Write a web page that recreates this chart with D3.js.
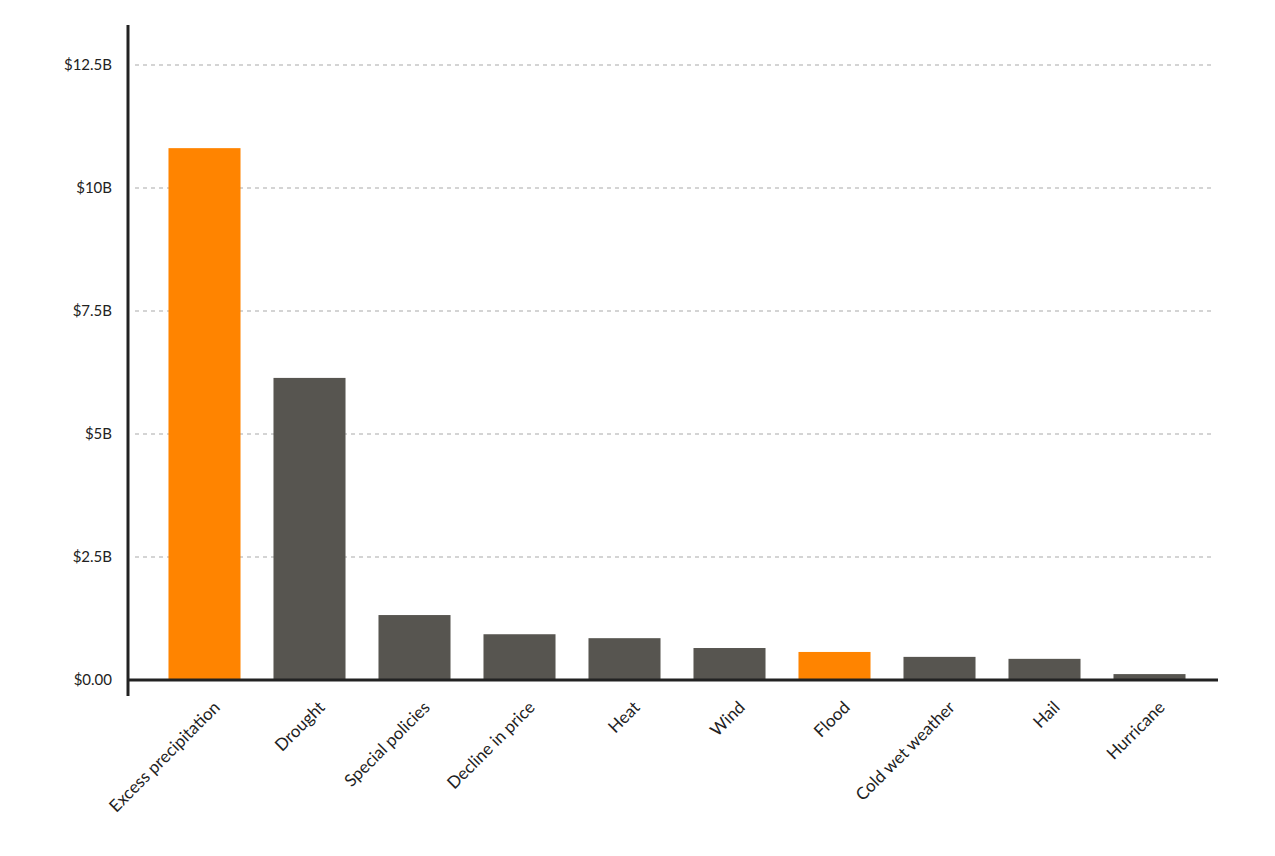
<!DOCTYPE html>
<html><head><meta charset="utf-8">
<script src="https://cdn.jsdelivr.net/npm/d3@7"></script>
<style>body{margin:0;background:#fff}</style>
</head><body>
<script>
var width = 1275, height = 856;
const categories = ["Excess precipitation","Drought","Special policies","Decline in price","Heat","Wind","Flood","Cold wet weather","Hail","Hurricane"];
const values = [10.81, 6.14, 1.32, 0.93, 0.85, 0.65, 0.57, 0.47, 0.43, 0.12];
const highlighted = ["Excess precipitation","Flood"];
const yTicks = [0, 2.5, 5, 7.5, 10, 12.5];
const yTickLabels = ["$0.00","$2.5B","$5B","$7.5B","$10B","$12.5B"];

var svg = d3.select("body").append("svg").attr("width", width).attr("height", height);
var x = d3.scaleBand().domain(categories).range([152, 1202]).paddingInner(0.314).paddingOuter(0.157);
var y = d3.scaleLinear().domain([0, 12.5]).range([680, 65]);

// grid
svg.append("g").selectAll("line").data(yTicks.slice(1)).enter().append("line")
  .attr("x1", 135).attr("x2", 1215)
  .attr("y1", d => y(d)).attr("y2", d => y(d))
  .attr("stroke", "#d4d4d4").attr("stroke-width", 2).attr("stroke-dasharray", "4,4");

svg.append("g").selectAll("rect").data(values).enter().append("rect")
  .attr("x", (d, i) => x(categories[i]))
  .attr("width", x.bandwidth())
  .attr("y", d => y(d))
  .attr("height", d => y(0) - y(d))
  .attr("fill", (d, i) => highlighted.includes(categories[i]) ? "#ff8400" : "#575550");

var yAxis = d3.axisLeft(y).tickValues(yTicks).tickFormat((d, i) => yTickLabels[i]).tickSize(0).tickPadding(16);
var ga = svg.append("g").attr("transform", "translate(128,0)").call(yAxis);
ga.select(".domain").remove();
ga.selectAll("text").attr("font-family", "Lato, sans-serif").attr("font-size", 15).attr("fill", "#222");

svg.append("line").attr("x1", 128).attr("x2", 128).attr("y1", 25).attr("y2", 696)
  .attr("stroke", "#222").attr("stroke-width", 3);
svg.append("line").attr("x1", 127).attr("x2", 1218).attr("y1", 680).attr("y2", 680)
  .attr("stroke", "#222").attr("stroke-width", 3);

var xAxis = d3.axisBottom(x).tickSize(0).tickPadding(0);
var gx = svg.append("g").attr("transform", "translate(0,700)").call(xAxis);
gx.select(".domain").remove();
gx.selectAll("text")
  .attr("font-family", "Lato, sans-serif").attr("font-size", 17).attr("fill", "#222")
  .attr("text-anchor", "end").attr("dy", "0.7em")
  .attr("transform", "translate(8,0) rotate(-45)");
</script>
</body></html>
